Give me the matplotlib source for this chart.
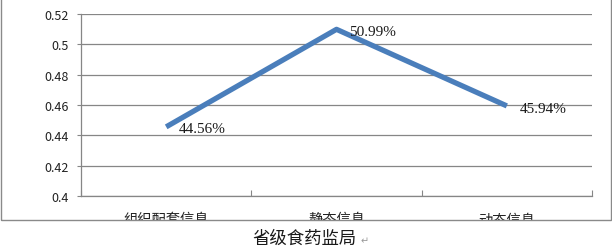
import matplotlib
matplotlib.use("Agg")
import matplotlib.pyplot as plt
from matplotlib.patches import Rectangle
from matplotlib.transforms import Bbox, TransformedBbox

plt.rcParams['font.family'] = ['Noto Sans CJK SC', 'DejaVu Sans']

# data
categories = ['组织配套信息', '静态信息', '动态信息']
values = [0.4456, 0.5099, 0.4594]
point_labels = ['44.56%', '50.99%', '45.94%']
y_ticks = [0.4, 0.42, 0.44, 0.46, 0.48, 0.5, 0.52]
y_tick_labels = ['0.4', '0.42', '0.44', '0.46', '0.48', '0.5', '0.52']
caption = '省级食药监局'

fig = plt.figure(figsize=(6.12, 2.51), dpi=100)
ax = fig.add_axes([0.1324, 0.2151, 0.8349, 0.7251])

grid_col = '#868686'
x = list(range(len(categories)))
ax.plot(x, values, color='#4a7ebb', lw=3.8, solid_capstyle='butt', zorder=3)

for xi, v, s in zip(x, values, point_labels):
    ax.annotate(s, (xi, v), xytext=(9, -1.5), textcoords='offset points',
                va='center', ha='left', fontsize=11,
                family='Liberation Serif', color='#1a1a1a', zorder=4)

ax.set_ylim(0.4, 0.52)
ax.set_xlim(-0.5, len(categories) - 0.5)
ax.set_yticks(y_ticks)
ax.set_yticklabels(y_tick_labels, fontsize=9, color='#222222')
ax.set_xticks([i - 0.5 for i in range(len(categories) + 1)])
ax.set_xticklabels([])
ax.yaxis.grid(True, color=grid_col, lw=0.9)
ax.set_axisbelow(True)
for side in ['top', 'right']:
    ax.spines[side].set_visible(False)
for side in ['left', 'bottom']:
    ax.spines[side].set_color(grid_col)
    ax.spines[side].set_linewidth(0.9)
ax.tick_params(axis='y', length=3, color=grid_col, pad=5.5)
ax.tick_params(axis='x', length=4, color=grid_col, direction='in')

# outer chart frame, bottom edge cuts the category labels
frame_bottom = 30 / 251
fig.patches.append(Rectangle((0.0016, frame_bottom), 0.9968, 1.2,
                             transform=fig.transFigure, fill=False,
                             edgecolor='#8a8a8a', lw=1.0, clip_on=False))
clip = TransformedBbox(Bbox([[0, frame_bottom], [1, 1]]), fig.transFigure)
for xi, c in zip(x, categories):
    t = ax.text(xi, -0.09, c, transform=ax.get_xaxis_transform(),
                ha='center', va='top', fontsize=10.3, color='#222222')
    t.set_clip_box(clip)
    t.set_clip_on(True)

fig.text(0.4975, 0.048, caption, ha='center', va='center', fontsize=12.5,
         color='#1a1a1a')
fig.text(0.595, 0.04, '↵', ha='center', va='center', fontsize=7,
         color='#999999', family=['DejaVu Sans'])

fig.savefig('out.png', dpi=100, facecolor='white')
